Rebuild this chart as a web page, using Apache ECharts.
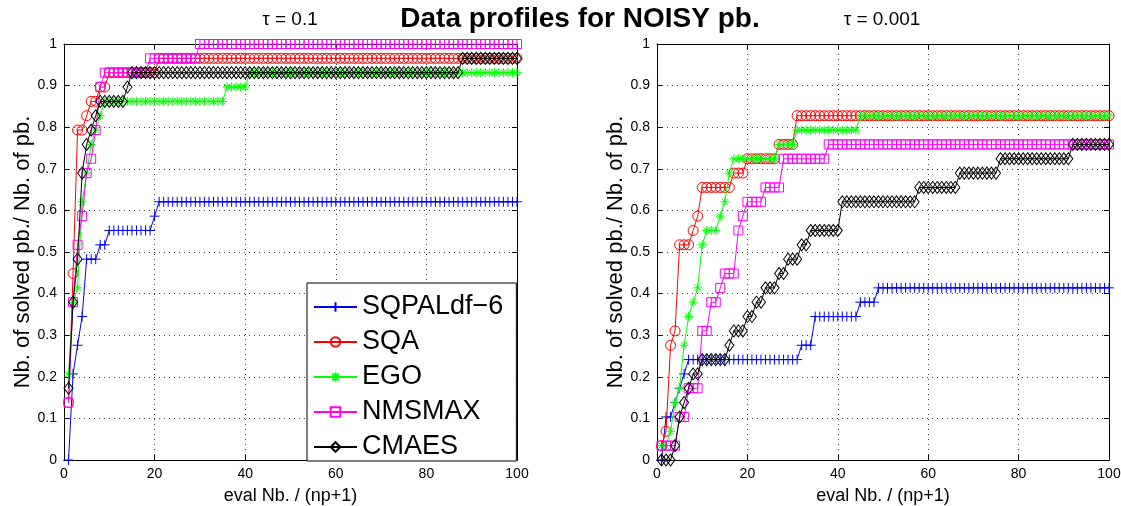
<!DOCTYPE html>
<html><head><meta charset="utf-8">
<script src="https://cdn.jsdelivr.net/npm/echarts/dist/echarts.min.js"></script>
<style>html,body{margin:0;padding:0;background:#fff;overflow:hidden}#c{width:1121px;height:506px}</style>
</head><body><div id="c"></div>
<script>
// number of problems in the benchmark (profiles are k / NPROB)
const NPROB = 29;
const X_MAX = 100;
const xTicks = [0, 20, 40, 60, 80, 100];
const yTicks = [0, 0.1, 0.2, 0.3, 0.4, 0.5, 0.6, 0.7, 0.8, 0.9, 1];
const seriesNames = ['SQPALdf\u22126', 'SQA', 'EGO', 'NMSMAX', 'CMAES'];
const panelTitles = ['\u03c4 = 0.1', '\u03c4 = 0.001'];

// step profiles: [first eval where level starts, solved count]
// tau = 0.1
const tau1_SQPAL = [[1,0],[2,6],[3,8],[4,10],[5,14],[8,15],[10,16],[20,17],[21,18]];
const tau1_SQA   = [[1,4],[2,13],[3,23],[5,24],[6,25],[8,26],[10,27],[21,28]];
const tau1_EGO   = [[1,6],[2,11],[3,12],[4,18],[5,20],[6,22],[7,23],[8,24],[9,25],[36,26],[41,27]];
const tau1_NMS   = [[1,4],[2,11],[3,15],[4,17],[5,20],[6,21],[7,23],[8,26],[9,27],[19,28],[30,29]];
const tau1_CMAES = [[1,5],[2,11],[3,14],[4,20],[5,22],[6,23],[7,24],[8,25],[14,26],[15,27],[88,28]];
// tau = 0.001
const tau3_SQPAL = [[1,0],[2,3],[4,4],[5,5],[6,6],[7,7],[32,8],[35,10],[45,11],[49,12]];
const tau3_SQA   = [[1,1],[2,2],[3,8],[4,9],[5,15],[8,16],[9,17],[10,19],[17,20],[20,21],[27,22],[31,24]];
const tau3_EGO   = [[1,1],[3,2],[4,4],[5,5],[6,8],[7,10],[8,11],[9,12],[10,15],[11,16],[14,17],[15,18],[16,20],[17,21],[27,22],[31,23],[45,24]];
const tau3_NMS   = [[1,1],[5,3],[7,5],[10,9],[12,11],[14,12],[15,13],[18,16],[19,17],[20,18],[24,19],[28,21],[38,22]];
const tau3_CMAES = [[1,0],[4,1],[5,3],[6,4],[7,5],[8,6],[10,7],[16,8],[17,9],[20,10],[22,11],[24,12],[27,13],[29,14],[32,15],[34,16],[41,18],[58,19],[67,20],[76,21],[92,22]];

const panels = [
  [tau1_SQPAL, tau1_SQA, tau1_EGO, tau1_NMS, tau1_CMAES],
  [tau3_SQPAL, tau3_SQA, tau3_EGO, tau3_NMS, tau3_CMAES]
];

function expand(runs) {
  const out = [];
  for (let x = 1; x <= X_MAX; x++) {
    let k = 0;
    for (const r of runs) if (x >= r[0]) k = r[1];
    out.push([x, k / NPROB]);
  }
  return out;
}

const PLUS = 'path://M0,5L10,5M5,0L5,10';
const STAR = 'path://M0,5L10,5M5,0L5,10M1.5,1.5L8.5,8.5M8.5,1.5L1.5,8.5';
const styles = [
  {color:'#0000ff', symbol:PLUS, size:10},
  {color:'#ff0000', symbol:'circle', size:10},
  {color:'#00ff00', symbol:STAR, size:9},
  {color:'#ff00ff', symbol:'rect', size:9},
  {color:'#000000', symbol:'diamond', size:[9,12]}
];

const FONT = 'Liberation Sans, Arial, Helvetica, sans-serif';
const grids = [
  {left:64, right:604, top:44, bottom:46, outerBoundsMode:'none', containLabel:false},
  {left:657, right:12, top:44, bottom:46, outerBoundsMode:'none', containLabel:false}
];
const xAxes = [], yAxes = [], series = [];
grids.forEach((g, gi) => {
  xAxes.push({
    gridIndex: gi, type:'value', min:0, max:X_MAX, interval:20,
    name:'eval Nb. / (np+1)', nameLocation:'middle', nameGap:27,
    nameTextStyle:{fontSize:18, color:'#000', fontFamily:FONT},
    axisLine:{onZero:false, lineStyle:{color:'#000', width:1}},
    axisTick:{inside:true, length:5, lineStyle:{color:'#000'}},
    axisLabel:{fontSize:14, color:'#000', margin:7, fontFamily:FONT},
    splitLine:{show:true, lineStyle:{color:'#444', type:[1,4], width:1}}
  });
  xAxes.push({
    gridIndex: gi, type:'value', min:0, max:X_MAX, interval:20, position:'top',
    axisLine:{onZero:false, lineStyle:{color:'#000', width:1}},
    axisTick:{inside:true, length:5, lineStyle:{color:'#000'}},
    axisLabel:{show:false}, splitLine:{show:false}
  });
  yAxes.push({
    gridIndex: gi, type:'value', min:0, max:1, interval:0.1,
    name:'Nb. of solved pb./ Nb. of pb.', nameLocation:'middle', nameGap:29,
    nameTextStyle:{fontSize:22, color:'#000', fontFamily:FONT},
    axisLine:{onZero:false, lineStyle:{color:'#000', width:1}},
    axisTick:{inside:true, length:5, lineStyle:{color:'#000'}},
    axisLabel:{fontSize:14, color:'#000', margin:7, fontFamily:FONT},
    splitLine:{show:true, lineStyle:{color:'#444', type:[1,4], width:1}}
  });
  yAxes.push({
    gridIndex: gi, type:'value', min:0, max:1, interval:0.1, position:'right',
    axisLine:{onZero:false, lineStyle:{color:'#000', width:1}},
    axisTick:{inside:true, length:5, lineStyle:{color:'#000'}},
    axisLabel:{show:false}, splitLine:{show:false}
  });
  panels[gi].forEach((runs, si) => {
    const st = styles[si];
    series.push({
      type:'line', name: seriesNames[si],
      xAxisIndex: gi*2, yAxisIndex: gi*2,
      data: expand(runs),
      symbol: st.symbol, symbolSize: st.size,
      showSymbol:true, showAllSymbol:true,
      color: st.color,
      lineStyle:{color: st.color, width:1},
      itemStyle:{color:'rgba(0,0,0,0)', borderColor: st.color, borderWidth:1},
      emphasis:{disabled:true},
      z: 2 + si,
      animation:false
    });
  });
});

const chart = echarts.init(document.getElementById('c'), null, {renderer:'canvas'});
chart.setOption({
  backgroundColor:'#fff',
  animation:false,
  grid: grids,
  xAxis: xAxes,
  yAxis: yAxes,
  series: series,
  legend: {
    data: seriesNames,
    orient:'vertical', left:307, top:283, width:180,
    backgroundColor:'#fff', borderColor:'#000', borderWidth:1,
    padding:[10, 13, 0, 6], itemGap:7, itemWidth:43, itemHeight:12,
    textStyle:{fontSize:27, color:'#000', fontFamily:FONT, lineHeight:28},
    selectedMode:false
  },
  graphic: [
    {type:'text', x:580, y:5, style:{text:'Data profiles for NOISY pb.', font:'bold 28px ' + FONT, fill:'#000', textAlign:'center'}},
    {type:'text', x:290, y:10, style:{text:panelTitles[0], font:'19px ' + FONT, fill:'#000', textAlign:'center'}},
    {type:'text', x:882, y:10, style:{text:panelTitles[1], font:'19px ' + FONT, fill:'#000', textAlign:'center'}}
  ]
});
</script></body></html>
